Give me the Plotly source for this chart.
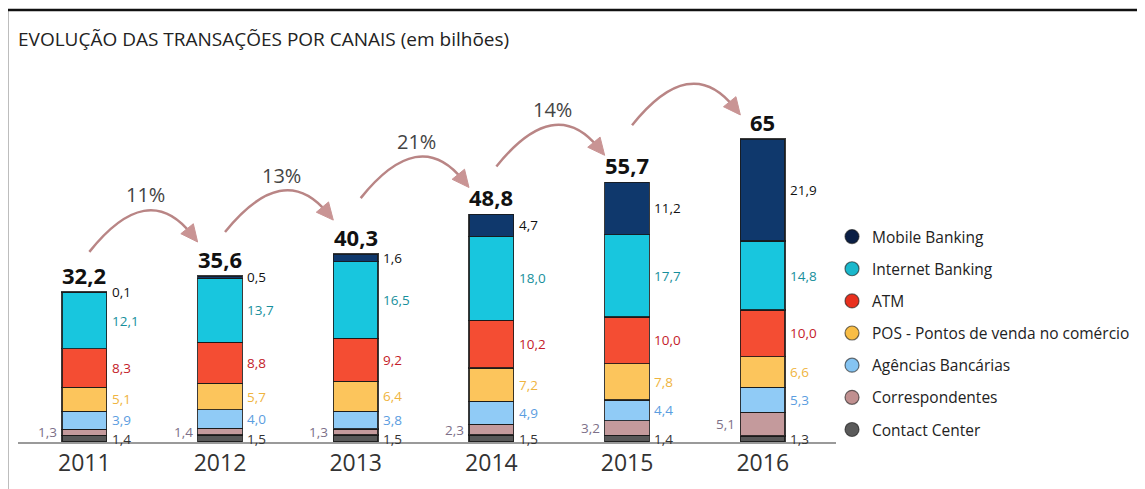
import math
import plotly.graph_objects as go

# ---------------- data ----------------
years = ["2011", "2012", "2013", "2014", "2015", "2016"]
contact_center = [1.4, 1.5, 1.5, 1.5, 1.4, 1.3]
correspondentes = [1.3, 1.4, 1.3, 2.3, 3.2, 5.1]
agencias = [3.9, 4.0, 3.8, 4.9, 4.4, 5.3]
pos = [5.1, 5.7, 6.4, 7.2, 7.8, 6.6]
atm = [8.3, 8.8, 9.2, 10.2, 10.0, 10.0]
internet = [12.1, 13.7, 16.5, 18.0, 17.7, 14.8]
mobile = [0.1, 0.5, 1.6, 4.7, 11.2, 21.9]
totals = [32.2, 35.6, 40.3, 48.8, 55.7, 65.0]
growth_labels = ["11%", "13%", "21%", "14%", "17%"]

# ---------------- styles / layout ----------------
FONT = "Open Sans"
OFF = 8                      # page body margin
W, H = 1145 - OFF, 489 - OFF
PLOT_L, PLOT_R, PLOT_T, PLOT_B = 18, 838, 69, 442   # on-screen pixels
ML, MR, MT, MB = PLOT_L - OFF, W - (PLOT_R - OFF), PLOT_T - OFF, H - (PLOT_B - OFF)
X_RANGE = [-0.489, 5.54]
Y_RANGE = [0, 80]
PW, PH = W - ML - MR, H - MT - MB
PXX = PW / (X_RANGE[1] - X_RANGE[0])
PXY = PH / (Y_RANGE[1] - Y_RANGE[0])
BAR_W = 0.33


def paper_x(px):
    return (px - PLOT_L) / PW


def paper_y(py):
    return (PLOT_B - py) / PH


# bottom -> top stacking order: name, values, bar colour, label colour, legend colour
series = [
    ("Contact Center", contact_center, "#585858", "#333333", "#5a5a5a"),
    ("Correspondentes", correspondentes, "#c49a9c", "#7d7088", "#c09090"),
    ("Agências Bancárias", agencias, "#90cbf6", "#5b9de0", "#85c4f2"),
    ("POS - Pontos de venda no comércio", pos, "#fcc55c", "#efb440", "#f8bd45"),
    ("ATM", atm, "#f44d33", "#c41c2a", "#e8301e"),
    ("Internet Banking", internet, "#18c6de", "#178f9c", "#1ab8cc"),
    ("Mobile Banking", mobile, "#0f386c", "#111111", "#0b1f45"),
]

ARROW_COLOR = "#b98585"
HEAD_COLOR = "#c99494"
START_LIFT_PX = [40, 44, 56, 48, 57]
END_LIFT_PX = [34, 34, 27, 27, 24]
ARC_H_PX = 39
LABEL_LIFT_PX = 18


def fmt(v, keep_zero=True):
    if not keep_zero and abs(v - round(v)) < 1e-9:
        return str(int(round(v)))
    return f"{v:.1f}".replace(".", ",")


fig = go.Figure()
x_idx = list(range(len(years)))

for name, vals, col, _, _ in series:
    fig.add_trace(go.Bar(
        x=x_idx, y=vals, width=BAR_W, name=name, showlegend=False,
        marker=dict(color=col, line=dict(color="rgba(25,25,25,0.85)", width=1.3)),
        hoverinfo="skip",
    ))

# legend entries (circles), top -> bottom
for name, vals, col, _, lcol in reversed(series):
    fig.add_trace(go.Scatter(
        x=[None], y=[None], mode="markers", name=name, legendgroup=name,
        marker=dict(size=14, color=lcol, line=dict(color="rgba(20,20,20,0.6)", width=1.2)),
    ))

annotations = []
for j in x_idx:
    base = 0.0
    for name, vals, col, tcol, _ in series:
        v = vals[j]
        mid = base + v / 2
        left = name == "Correspondentes"
        annotations.append(dict(
            x=j - BAR_W / 2 if left else j + BAR_W / 2, y=mid, xref="x", yref="y", text=fmt(v),
            showarrow=False, xanchor="right" if left else "left", yanchor="middle",
            xshift=-3 if left else 3,
            font=dict(family=FONT, size=13.5, color=tcol)))
        base += v
    annotations.append(dict(x=j, y=totals[j], xref="x", yref="y", text=f"<b>{fmt(totals[j], False)}</b>",
                            showarrow=False, xanchor="center", yanchor="bottom", yshift=0,
                            font=dict(family=FONT, size=22, color="#111111")))

shapes = []
for i, lab in enumerate(growth_labels):
    sx = i + 5 / PXX
    sy = totals[i] + START_LIFT_PX[i] / PXY
    ex = i + 1 - BAR_W / 2
    ey = totals[i + 1] + END_LIFT_PX[i] / PXY
    dxp = (ex - sx) * PXX
    dyp = (ey - sy) * PXY
    cyp = 2 * ARC_H_PX - dyp / 2
    cxp = dxp / 2 + 4
    tx, ty = dxp - cxp, dyp - cyp
    n = math.hypot(tx, ty)
    ux, uy = tx / n, ty / n
    L, w = 17, 8
    bx, by = dxp - L * ux, dyp - L * uy
    nx, ny = -uy, ux
    lx, ly = dxp - 0.6 * L * ux, dyp - 0.6 * L * uy

    def D(xp, yp):
        return sx + xp / PXX, sy + yp / PXY

    p0, pc, p1 = D(0, 0), D(cxp, cyp), D(lx, ly)
    shapes.append(dict(type="path", xref="x", yref="y",
                       path=f"M {p0[0]},{p0[1]} Q {pc[0]},{pc[1]} {p1[0]},{p1[1]}",
                       line=dict(color=ARROW_COLOR, width=2.5), layer="above"))
    t0 = D(dxp, dyp)
    t1 = D(bx + w * nx, by + w * ny)
    t2 = D(bx - w * nx, by - w * ny)
    shapes.append(dict(type="path", xref="x", yref="y",
                       path=f"M {t0[0]},{t0[1]} L {t1[0]},{t1[1]} L {t2[0]},{t2[1]} Z",
                       fillcolor=HEAD_COLOR, line=dict(color=HEAD_COLOR, width=1), layer="above"))
    lxp, lyp = D(dxp / 2 + 2, ARC_H_PX + LABEL_LIFT_PX)
    annotations.append(dict(x=lxp, y=lyp, xref="x", yref="y", text=lab, showarrow=False,
                            xanchor="center", yanchor="middle",
                            font=dict(family=FONT, size=20, color="#444444")))

# title
annotations.append(dict(x=paper_x(16), y=paper_y(39), xref="paper", yref="paper",
                        text="EVOLUÇÃO DAS TRANSAÇÕES POR CANAIS (em bilhões)", showarrow=False,
                        xanchor="left", yanchor="middle",
                        font=dict(family=FONT, size=19, color="#222222")))

# outer frame
shapes.append(dict(type="rect", xref="paper", yref="paper",
                   x0=paper_x(7), x1=paper_x(1160), y0=paper_y(510), y1=paper_y(10),
                   line=dict(color="#111111", width=2.5), fillcolor="rgba(0,0,0,0)", layer="above"))

fig.update_layout(
    width=W, height=H,
    margin=dict(l=ML, r=MR, t=MT, b=MB),
    barmode="stack",
    plot_bgcolor="white", paper_bgcolor="white",
    font=dict(family=FONT, color="#222222"),
    annotations=annotations,
    shapes=shapes,
    legend=dict(x=paper_x(834), y=paper_y(220), xanchor="left", yanchor="top",
                font=dict(family=FONT, size=15.5, color="#222222"),
                traceorder="grouped", tracegroupgap=9, itemwidth=30,
                bgcolor="rgba(0,0,0,0)"),
    xaxis=dict(range=X_RANGE, tickmode="array", tickvals=x_idx, ticktext=years,
               showgrid=False, zeroline=False, showline=True, linecolor="#9a9a9a", linewidth=1.5,
               ticks="", tickfont=dict(family=FONT, size=23, color="#333333"), fixedrange=True),
    yaxis=dict(range=Y_RANGE, visible=False, showgrid=False, zeroline=False, fixedrange=True),
)

fig.write_html("out.html")
